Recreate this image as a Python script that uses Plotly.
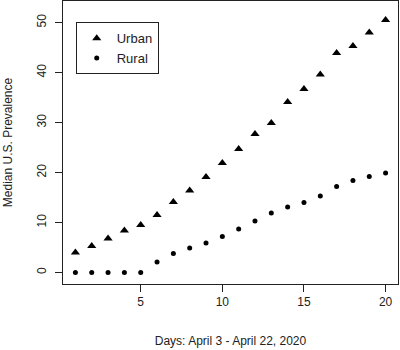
import plotly.graph_objects as go

days = list(range(1, 21))
urban = [4.0, 5.3, 6.8, 8.4, 9.5, 11.5, 14.1, 16.4, 19.1, 21.9,
         24.7, 27.7, 29.9, 34.1, 36.7, 39.6, 43.9, 45.3, 48.0, 50.5]
rural = [0, 0, 0, 0, 0, 2.1, 3.8, 4.9, 5.9, 7.2,
         8.7, 10.3, 11.9, 13.1, 14.0, 15.3, 17.2, 18.4, 19.2, 19.9]
x_ticks = [5, 10, 15, 20]
y_ticks = [0, 10, 20, 30, 40, 50]

FONT = "Liberation Sans, Arial, sans-serif"
INK = "#222222"

fig = go.Figure()
fig.add_trace(go.Scatter(x=days, y=urban, mode="markers", name="Urban",
                         marker=dict(symbol="triangle-up", size=8, color="black")))
fig.add_trace(go.Scatter(x=days, y=rural, mode="markers", name="Rural",
                         marker=dict(symbol="circle", size=5, color="black")))

axis_common = dict(showgrid=False, zeroline=False, showline=True, mirror=True,
                   linecolor=INK, linewidth=1, ticks="outside", ticklen=7,
                   tickcolor=INK, tickwidth=1,
                   tickfont=dict(family=FONT, size=12, color=INK))

fig.update_layout(
    width=400, height=350,
    margin=dict(l=63, r=2, t=1, b=66),
    paper_bgcolor="white", plot_bgcolor="white",
    font=dict(family=FONT, size=12, color=INK),
    xaxis=dict(range=[0.24, 20.76], tickvals=x_ticks,
               title=dict(text="Days: April 3 - April 22, 2020", standoff=28,
                          font=dict(family=FONT, size=12, color=INK)),
               **axis_common),
    yaxis=dict(range=[-2.3, 54.3], tickvals=y_ticks, tickangle=-90,
               ticklabelstandoff=4,
               title=dict(text="Median U.S. Prevalence", standoff=20,
                          font=dict(family=FONT, size=12, color=INK)),
               **axis_common),
    showlegend=True,
    legend=dict(x=0.038, y=0.925, xanchor="left", yanchor="top",
                bordercolor=INK, borderwidth=1, bgcolor="white",
                font=dict(family=FONT, size=13, color=INK),
                itemwidth=30, tracegroupgap=0),
)

fig.write_html("out.html",
               config={"displayModeBar": False, "staticPlot": True},
               post_script="document.body.style.margin='0';"
                           "document.body.style.overflow='hidden';")
